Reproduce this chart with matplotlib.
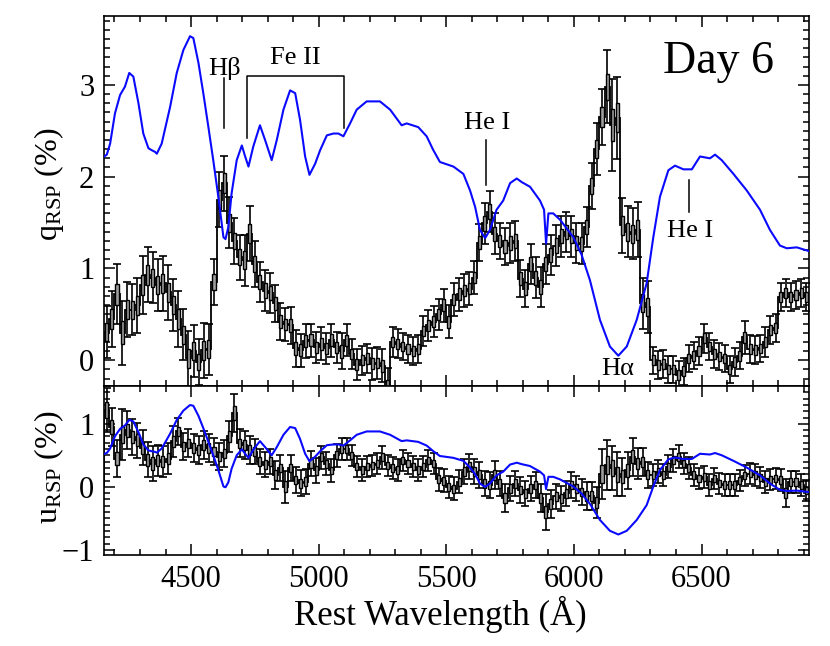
import numpy as np
import matplotlib
matplotlib.use("Agg")
import matplotlib.pyplot as plt
from matplotlib.ticker import MultipleLocator

plt.rcParams["font.family"] = ["Liberation Serif", "DejaVu Serif"]
plt.rcParams["mathtext.fontset"] = "custom"
plt.rcParams["mathtext.rm"] = "Liberation Serif"
plt.rcParams["mathtext.it"] = "Liberation Serif:italic"

# ------------------------------------------------------------
# Binned polarization (20 A bins starting at 4160 A)
# ------------------------------------------------------------
BIN_START, BIN_WIDTH = 4160, 20

q_rsp = [
    0.31, 0.45, 0.72, 0.30, 0.55, 0.55, 0.60, 0.82, 0.93, 0.90,
    0.82, 0.84, 0.74, 0.60, 0.45, 0.28, 0.02, 0.10, -0.02, 0.11,
    0.12, 0.85, 1.75, 1.93, 1.50, 1.30, 1.12, 1.09, 1.38, 1.05,
    0.85, 0.76, 0.73, 0.62, 0.42, 0.39, 0.38, 0.13, 0.11, 0.21,
    0.22, 0.14, 0.18, 0.13, 0.22, 0.14, 0.10, 0.22, 0.07, -0.05,
    0.00, 0.02, -0.04, -0.03, -0.06, -0.28, 0.20, 0.18, 0.15, 0.12,
    0.10, 0.12, 0.32, 0.38, 0.42, 0.50, 0.60, 0.42, 0.66, 0.72,
    0.76, 0.78, 0.90, 1.28, 1.49, 1.62, 1.38, 1.30, 1.24, 1.28,
    1.30, 0.89, 0.78, 1.05, 0.90, 0.80, 1.05, 1.15, 1.25, 1.35,
    1.40, 1.35, 1.28, 1.27, 1.45, 1.90, 2.30, 2.65, 2.98, 2.56,
    2.64, 1.47, 1.40, 1.38, 1.42, 0.62, 0.58, 0.00, -0.05, -0.04,
    -0.10, -0.10, -0.16, -0.12, 0.02, 0.05, 0.10, 0.24, 0.15, 0.07,
    0.04, 0.02, -0.10, -0.02, 0.05, 0.25, 0.12, 0.11, 0.13, 0.20,
    0.33, 0.35, 0.69, 0.73, 0.69, 0.71, 0.73, 0.69,
]
q_err = [
    0.28, 0.30, 0.33, 0.35, 0.30, 0.28, 0.30, 0.32, 0.30, 0.28,
    0.28, 0.30, 0.30, 0.28, 0.30, 0.28, 0.30, 0.28, 0.25, 0.30,
    0.28, 0.25, 0.30, 0.30, 0.28, 0.25, 0.25, 0.28, 0.30, 0.25,
    0.22, 0.22, 0.22, 0.20, 0.20, 0.18, 0.20, 0.20, 0.18, 0.18,
    0.18, 0.17, 0.18, 0.17, 0.18, 0.17, 0.20, 0.17, 0.16, 0.17,
    0.16, 0.16, 0.17, 0.17, 0.18, 0.20, 0.16, 0.16, 0.15, 0.15,
    0.15, 0.15, 0.16, 0.17, 0.17, 0.17, 0.18, 0.18, 0.18, 0.18,
    0.18, 0.18, 0.18, 0.20, 0.22, 0.22, 0.22, 0.20, 0.20, 0.22,
    0.22, 0.20, 0.20, 0.22, 0.22, 0.22, 0.22, 0.22, 0.22, 0.22,
    0.22, 0.22, 0.22, 0.22, 0.22, 0.25, 0.28, 0.30, 0.40, 0.50,
    0.45, 0.30, 0.28, 0.28, 0.30, 0.28, 0.28, 0.15, 0.15, 0.15,
    0.15, 0.15, 0.15, 0.15, 0.15, 0.15, 0.15, 0.16, 0.15, 0.15,
    0.15, 0.15, 0.15, 0.15, 0.15, 0.18, 0.15, 0.15, 0.15, 0.16,
    0.15, 0.15, 0.15, 0.15, 0.15, 0.15, 0.15, 0.15,
]
u_rsp = [
    1.22, 0.95, 0.45, 0.83, 0.90, 0.79, 0.74, 0.62, 0.43, 0.37,
    0.42, 0.40, 0.45, 0.72, 0.88, 0.64, 0.69, 0.62, 0.59, 0.66,
    0.62, 0.56, 0.48, 0.53, 0.80, 1.17, 0.69, 0.66, 0.59, 0.56,
    0.40, 0.35, 0.40, 0.19, 0.30, 0.00, 0.30, 0.11, 0.06, 0.08,
    0.37, 0.26, 0.47, 0.37, 0.26, 0.50, 0.60, 0.60, 0.50, 0.32,
    0.27, 0.32, 0.34, 0.37, 0.47, 0.34, 0.30, 0.27, 0.42, 0.37,
    0.32, 0.27, 0.32, 0.42, 0.37, 0.12, 0.10, 0.00, -0.03, 0.08,
    0.24, 0.32, 0.24, 0.19, 0.05, 0.03, 0.19, 0.05, -0.18, -0.02,
    0.05, -0.05, -0.10, -0.03, 0.03, -0.18, -0.40, -0.27, -0.15, -0.18,
    -0.10, 0.03, -0.03, -0.08, -0.15, -0.15, -0.25, 0.20, 0.35, 0.30,
    0.20, 0.16, 0.26, 0.48, 0.37, 0.40, 0.19, 0.19, 0.24, 0.19,
    0.32, 0.42, 0.48, 0.37, 0.30, 0.19, 0.13, 0.16, 0.03, 0.13,
    0.05, 0.03, 0.03, 0.03, 0.10, 0.18, 0.21, 0.19, 0.15, 0.08,
    0.12, 0.13, 0.11, -0.10, 0.08, 0.08, 0.03, -0.06,
]
u_err = [
    0.35, 0.30, 0.30, 0.40, 0.30, 0.28, 0.28, 0.28, 0.28, 0.28,
    0.25, 0.25, 0.25, 0.25, 0.22, 0.22, 0.22, 0.22, 0.22, 0.22,
    0.22, 0.22, 0.22, 0.22, 0.25, 0.30, 0.22, 0.22, 0.22, 0.20,
    0.20, 0.20, 0.20, 0.22, 0.20, 0.25, 0.20, 0.20, 0.20, 0.20,
    0.20, 0.20, 0.18, 0.18, 0.18, 0.18, 0.18, 0.18, 0.17, 0.17,
    0.17, 0.17, 0.17, 0.17, 0.18, 0.17, 0.17, 0.17, 0.17, 0.17,
    0.17, 0.17, 0.17, 0.17, 0.17, 0.18, 0.18, 0.18, 0.18, 0.18,
    0.20, 0.20, 0.20, 0.20, 0.20, 0.20, 0.22, 0.20, 0.22, 0.20,
    0.20, 0.20, 0.20, 0.20, 0.20, 0.22, 0.28, 0.22, 0.20, 0.20,
    0.20, 0.20, 0.20, 0.20, 0.22, 0.22, 0.25, 0.40, 0.40, 0.35,
    0.35, 0.30, 0.30, 0.30, 0.25, 0.22, 0.20, 0.18, 0.18, 0.18,
    0.18, 0.18, 0.18, 0.17, 0.17, 0.17, 0.17, 0.17, 0.17, 0.17,
    0.17, 0.17, 0.17, 0.17, 0.17, 0.17, 0.17, 0.17, 0.17, 0.17,
    0.17, 0.17, 0.17, 0.22, 0.17, 0.17, 0.17, 0.17,
]

# ------------------------------------------------------------
# Total flux spectrum (arbitrary scale, as drawn in the q panel)
# ------------------------------------------------------------
flux_wave = [
    4160, 4170, 4183, 4202, 4222, 4241, 4258, 4274, 4294, 4313,
    4333, 4345, 4359, 4366, 4385, 4418, 4444, 4470, 4496, 4509,
    4529, 4548, 4568, 4587, 4607, 4627, 4635, 4646, 4659, 4679,
    4699, 4712, 4725, 4744, 4770, 4790, 4816, 4836, 4862, 4888,
    4908, 4927, 4947, 4964, 4986, 5006, 5032, 5058, 5077, 5097,
    5123, 5149, 5188, 5240, 5280, 5325, 5345, 5390, 5423, 5449,
    5475, 5528, 5567, 5593, 5613, 5632, 5652, 5671, 5697, 5723,
    5750, 5776, 5796, 5828, 5867, 5883, 5891, 5900, 5919, 5946,
    5998, 6030, 6063, 6102, 6141, 6174, 6207, 6246, 6285, 6311,
    6337, 6370, 6396, 6429, 6462, 6494, 6533, 6553, 6579, 6625,
    6677, 6729, 6768, 6807, 6834, 6873, 6920,
]
flux = [
    2.22, 2.24, 2.36, 2.69, 2.89, 2.98, 3.13, 3.09, 2.80, 2.47,
    2.31, 2.29, 2.27, 2.25, 2.36, 2.76, 3.13, 3.38, 3.53, 3.51,
    3.24, 2.91, 2.54, 2.18, 1.78, 1.34, 1.32, 1.45, 1.82, 2.18,
    2.34, 2.22, 2.11, 2.33, 2.56, 2.40, 2.18, 2.40, 2.73, 2.94,
    2.91, 2.62, 2.22, 2.02, 2.14, 2.29, 2.45, 2.47, 2.47, 2.44,
    2.58, 2.73, 2.82, 2.82, 2.73, 2.56, 2.58, 2.54, 2.44, 2.29,
    2.16, 2.11, 2.03, 1.85, 1.67, 1.42, 1.33, 1.42, 1.64, 1.74,
    1.93, 1.98, 1.94, 1.89, 1.74, 1.64, 1.27, 1.60, 1.60, 1.53,
    1.34, 1.15, 0.87, 0.44, 0.15, 0.05, 0.15, 0.44, 0.84, 1.34,
    1.78, 2.07, 2.12, 2.08, 2.08, 2.22, 2.20, 2.24, 2.18, 2.03,
    1.85, 1.64, 1.42, 1.25, 1.22, 1.23, 1.19,
]
# the same spectrum is shifted/rescaled for the u panel
U_FLUX_OFFSET, U_FLUX_SCALE = 1.33, 0.59

BLUE = "#0a0aff"

q_rsp, q_err = np.array(q_rsp), np.array(q_err)
u_rsp, u_err = np.array(u_rsp), np.array(u_err)
flux_wave, flux = np.array(flux_wave), np.array(flux)
edges = BIN_START + BIN_WIDTH * np.arange(len(q_rsp) + 1)
centers = edges[:-1] + BIN_WIDTH / 2

fig = plt.figure(figsize=(8.3, 6.46), dpi=100)
ax_q = fig.add_axes([0.1253, 0.4025, 0.8494, 0.5727])
ax_u = fig.add_axes([0.1253, 0.1409, 0.8494, 0.2616], sharex=ax_q)


def draw_panel(ax, val, err, spec):
    ax.stairs(val, edges, color="k", lw=1.3, zorder=3)
    ax.errorbar(centers, val, yerr=err, fmt="none", ecolor="k",
                elinewidth=1.2, capsize=2.6, capthick=1.2, zorder=3)
    half = 0.35 * err
    ax.bar(centers, 2 * half, bottom=val - half, width=0.6 * BIN_WIDTH,
           color="0.62", edgecolor="k", lw=1.0, zorder=4)
    ax.plot(flux_wave, spec, color=BLUE, lw=1.5, zorder=5)
    ax.tick_params(which="both", direction="in", top=True, right=True,
                   labelsize=22, width=1.1, pad=7)
    ax.tick_params(which="major", length=8)
    ax.tick_params(which="minor", length=4.5)
    for sp in ax.spines.values():
        sp.set_linewidth(1.2)


draw_panel(ax_q, q_rsp, q_err, flux)
draw_panel(ax_u, u_rsp, u_err, (flux - U_FLUX_OFFSET) * U_FLUX_SCALE)

ax_q.set_xlim(4159, 6921)
ax_q.set_ylim(-0.28, 3.75)
ax_u.set_ylim(-1.08, 1.6)
ax_q.xaxis.set_major_locator(MultipleLocator(500))
ax_q.xaxis.set_minor_locator(MultipleLocator(100))
ax_q.yaxis.set_major_locator(MultipleLocator(1))
ax_q.yaxis.set_minor_locator(MultipleLocator(0.1))
ax_u.yaxis.set_major_locator(MultipleLocator(1))
ax_u.yaxis.set_minor_locator(MultipleLocator(0.1))
ax_q.tick_params(labelbottom=False)
ax_u.set_yticks([-1, 0, 1])
ax_u.set_yticklabels(["\u22121", "0", "1"])

ax_q.set_ylabel(r"$\mathrm{q_{RSP}}$ (%)", fontsize=23)
ax_u.set_ylabel(r"$\mathrm{u_{RSP}}$ (%)", fontsize=23)
ax_q.yaxis.set_label_coords(-0.054, 0.545)
ax_u.yaxis.set_label_coords(-0.054, 0.52)
ax_u.set_xlabel("Rest Wavelength (\u00c5)", fontsize=25)
ax_u.xaxis.set_label_coords(0.477, -0.24)

# ------------------------------------------------------------
# Line identifications
# ------------------------------------------------------------
LBL = 19
ax_q.text(4633, 3.18, "H\u03b2", fontsize=LBL, ha="center", va="center")
ax_q.plot([4629, 4629], [2.53, 3.07], color="k", lw=1.1)
ax_q.text(4907, 3.29, "Fe II", fontsize=LBL, ha="center", va="center")
ax_q.plot([4718, 4718, 5099, 5099], [2.42, 3.10, 3.10, 2.53],
          color="k", lw=1.1)
ax_q.text(5660, 2.58, "He I", fontsize=LBL, ha="center", va="center")
ax_q.plot([5655, 5655], [1.91, 2.40], color="k", lw=1.1)
ax_q.text(6457, 1.41, "He I", fontsize=LBL, ha="center", va="center")
ax_q.plot([6451, 6451], [1.62, 1.96], color="k", lw=1.1)
ax_q.text(6173, -0.10, "H\u03b1", fontsize=LBL, ha="center", va="center")
ax_q.text(6568, 3.25, "Day 6", fontsize=33, ha="center", va="center")

fig.savefig("out.png", dpi=100)
